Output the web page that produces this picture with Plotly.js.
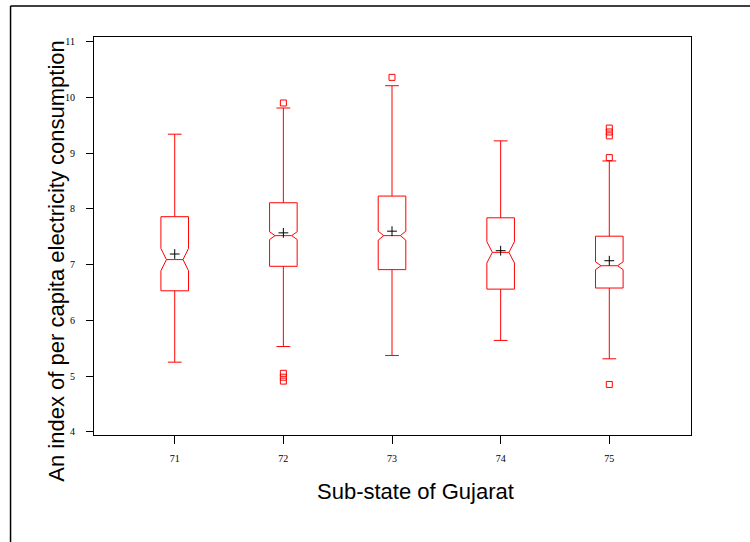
<!DOCTYPE html>
<html>
<head>
<meta charset="utf-8">
<script src="https://cdn.plot.ly/plotly-3.0.1.min.js"></script>
<style>
  html, body { margin: 0; padding: 0; background: #fff; }
  #chart { width: 750px; height: 542px; }
</style>
</head>
<body>
<div id="chart"></div>
<script>
// Sub-state codes on the horizontal axis
const subStates = [71, 72, 73, 74, 75];

// Box summaries of the per capita electricity consumption index
const lowerWhisker = [5.25, 5.53, 5.37, 5.64, 5.31];
const q1Values     = [6.53, 6.97, 6.91, 6.56, 6.58];
const medians      = [7.09, 7.52, 7.52, 7.22, 6.98];
const q3Values     = [7.86, 8.11, 8.23, 7.84, 7.51];
const upperWhisker = [9.34, 9.81, 10.21, 9.22, 8.86];
const notchSpans   = [0.20, 0.07, 0.08, 0.19, 0.07];
const means        = [7.19, 7.57, 7.60, 7.25, 7.07];

// Outlying observations per sub-state
const outlierState = [72, 72, 72, 72, 73, 75, 75, 75, 75, 75];
const outlierValue = [9.90, 5.05, 4.98, 4.91, 10.36, 9.45, 9.38, 9.31, 8.92, 4.85];

const yTicks = [4, 5, 6, 7, 8, 9, 10, 11];

const red = '#ff0000';

const boxTrace = {
  type: 'box',
  x: subStates,
  q1: q1Values,
  median: medians,
  q3: q3Values,
  lowerfence: lowerWhisker,
  upperfence: upperWhisker,
  notchspan: notchSpans,
  notched: true,
  notchwidth: 0.2,
  boxpoints: false,
  width: 0.254,
  whiskerwidth: 0.5,
  fillcolor: 'rgba(0,0,0,0)',
  line: { color: red, width: 1 },
  hoverinfo: 'skip',
  showlegend: false
};

const meanTrace = {
  type: 'scatter',
  mode: 'markers',
  x: subStates,
  y: means,
  marker: { symbol: 'cross-thin', size: 7, line: { color: '#000', width: 1 } },
  hoverinfo: 'skip',
  showlegend: false
};

const outlierTrace = {
  type: 'scatter',
  mode: 'markers',
  x: outlierState,
  y: outlierValue,
  marker: { symbol: 'square-open', size: 6, color: red, line: { color: red, width: 1 } },
  hoverinfo: 'skip',
  showlegend: false
};

const tickFont = { family: 'Liberation Serif, Times New Roman, serif', size: 10, color: '#000' };
const titleFont = { family: 'Liberation Sans, Arial, sans-serif', size: 22, color: '#000' };

const layout = {
  width: 750,
  height: 542,
  margin: { l: 93.5, r: 59.3, t: 37, b: 106.5, pad: 0 },
  paper_bgcolor: '#fff',
  plot_bgcolor: '#fff',
  showlegend: false,
  xaxis: {
    type: 'linear',
    range: [70.257, 75.752],
    tickvals: subStates,
    ticktext: subStates.map(String),
    ticks: 'outside',
    ticklen: 8,
    tickcolor: '#000',
    tickwidth: 1,
    ticklabelstandoff: 6,
    tickfont: tickFont,
    showgrid: false,
    zeroline: false,
    showline: true,
    mirror: true,
    linecolor: '#000',
    linewidth: 1
  },
  yaxis: {
    range: [3.943, 11.084],
    tickvals: yTicks,
    ticktext: yTicks.map(String),
    ticks: 'outside',
    ticklen: 7,
    tickcolor: '#000',
    tickwidth: 1,
    ticklabelstandoff: 9,
    tickfont: tickFont,
    showgrid: false,
    zeroline: false,
    showline: true,
    mirror: true,
    linecolor: '#000',
    linewidth: 1
  },
  annotations: [
    {
      text: 'Sub-state of Gujarat',
      xref: 'paper', yref: 'paper',
      x: 0.538, y: -0.142,
      xanchor: 'center', yanchor: 'middle',
      showarrow: false,
      font: titleFont
    },
    {
      text: 'An index of per capita electricity consumption',
      xref: 'paper', yref: 'paper',
      x: -0.062, y: 0.438,
      xanchor: 'center', yanchor: 'middle',
      textangle: -90,
      showarrow: false,
      font: titleFont
    }
  ],
  shapes: [
    // outer page frame: left and top edges
    { type: 'line', xref: 'paper', yref: 'paper', x0: -0.1398, x1: -0.1398, y0: 1.0778, y1: -0.4,
      line: { color: '#000', width: 1.5 } },
    { type: 'line', xref: 'paper', yref: 'paper', x0: -0.1398, x1: 1.3, y0: 1.0778, y1: 1.0778,
      line: { color: '#000', width: 1.5 } }
  ]
};

Plotly.newPlot('chart', [boxTrace, outlierTrace, meanTrace], layout, { staticPlot: true, displayModeBar: false });
</script>
</body>
</html>
